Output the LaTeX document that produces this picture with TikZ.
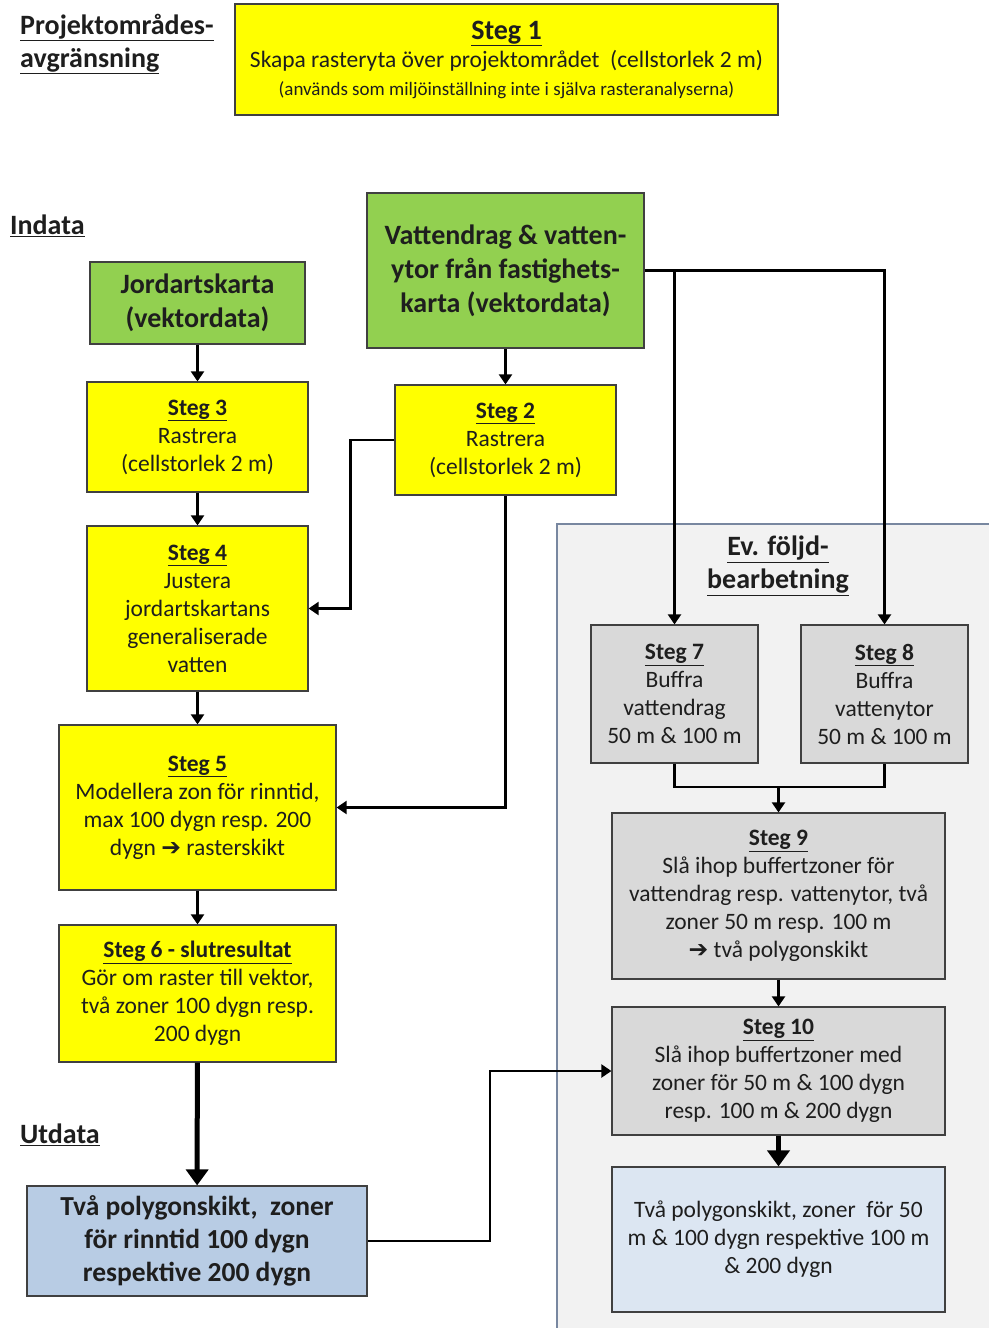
\documentclass[tikz,border=0pt]{standalone}
\usepackage{fontspec}
\setmainfont{Carlito}
\newfontfamily\pilfont{DejaVu Sans}
\usetikzlibrary{arrows.meta}

\definecolor{stegyellow}{RGB}{255,255,0}
\definecolor{datagreen}{RGB}{146,208,80}
\definecolor{bufgray}{RGB}{217,217,217}
\definecolor{panelgray}{RGB}{242,242,242}
\definecolor{panelline}{RGB}{120,135,160}
\definecolor{utblue}{RGB}{184,204,228}
\definecolor{slutblue}{RGB}{220,230,242}
\definecolor{ink}{RGB}{30,30,30}

\newcommand{\steg}[1]{\textbf{\underline{Steg #1}}}
\newcommand{\pil}{{\pilfont\bfseries ➔}}

\begin{document}
\begin{tikzpicture}[
  x=1pt, y=-1pt,
  every node/.style={text=ink},
  box/.style={draw=black!75, line width=1.2pt, align=center, inner sep=0pt,
    font=\fontsize{23.5}{28}\selectfont},
  stegbox/.style={box, fill=stegyellow},
  databox/.style={box, fill=datagreen, font=\bfseries\fontsize{28}{34}\selectfont},
  bufbox/.style={box, fill=bufgray},
  rubrik/.style={font=\bfseries\fontsize{28}{33}\selectfont, align=left, inner sep=0pt},
  flow/.style={-{Triangle[length=10pt,width=13pt]}, line width=2.2pt},
  bigflow/.style={-{Triangle[length=16pt,width=22pt]}, line width=5pt}
]
\useasboundingbox (0,0) rectangle (989,1328);

% panel for the optional post-processing
\fill[panelgray] (557,524) rectangle (989,1328);
\draw[panelline, line width=1.2pt] (557,1328) -- (557,524) -- (989,524);

% headings
\node[rubrik, anchor=west] (projekt) at (20,44)
  {\underline{Projektområdes-}\\\underline{avgränsning}};
\node[rubrik, anchor=west] (indata) at (10,226) {\underline{Indata}};
\node[rubrik, anchor=west] (utdata) at (20,1135) {\underline{Utdata}};
\node[rubrik, align=center] (foljd) at (778,566) {\underline{Ev. följd-}\\\underline{bearbetning}};

% steg 1
\node[stegbox, minimum width=543pt, minimum height=111pt] (steg1) at (506.5,59.5)
  {{\fontsize{28}{31}\selectfont\steg{1}}\\
   Skapa rasteryta över projektområdet \ (cellstorlek 2 m)\\
   {\fontsize{19}{24}\selectfont (används som miljöinställning inte i själva rasteranalyserna)}};

% input data
\node[databox, minimum width=215pt, minimum height=82pt] (jord) at (197.5,303)
  {Jordartskarta\\(vektordata)};
\node[databox, minimum width=277pt, minimum height=155pt] (vatten) at (505.5,270.5)
  {Vattendrag \& vatten-\\ytor från fastighets-\\karta (vektordata)};

% main chain
\node[stegbox, minimum width=221pt, minimum height=110pt] (steg3) at (197.5,437)
  {\steg{3}\\Rastrera\\(cellstorlek 2 m)};
\node[stegbox, minimum width=221pt, minimum height=110pt] (steg2) at (505.5,440)
  {\steg{2}\\Rastrera\\(cellstorlek 2 m)};
\node[stegbox, minimum width=221pt, minimum height=165pt] (steg4) at (197.5,608.5)
  {\steg{4}\\Justera\\jordartskartans\\generaliserade\\vatten};
\node[stegbox, minimum width=277pt, minimum height=165pt] (steg5) at (197.5,807.5)
  {\steg{5}\\Modellera zon för rinntid,\\max 100 dygn resp. 200\\dygn \pil{} rasterskikt};
\node[stegbox, minimum width=277pt, minimum height=137pt] (steg6) at (197.5,993.5)
  {\textbf{\underline{Steg 6 - slutresultat}}\\Gör om raster till vektor,\\två zoner 100 dygn resp.\\200 dygn};
\node[box, fill=utblue, minimum width=340pt, minimum height=110pt,
  font=\bfseries\fontsize{27.5}{33}\selectfont] (resultat) at (197,1241)
  {Två polygonskikt, \ zoner\\för rinntid 100 dygn\\respektive 200 dygn};

% buffer chain
\node[bufbox, minimum width=167pt, minimum height=138pt] (steg7) at (674.5,694)
  {\steg{7}\\Buffra\\vattendrag\\50 m \& 100 m};
\node[bufbox, minimum width=167pt, minimum height=138pt] (steg8) at (884.5,694)
  {\steg{8}\\Buffra\\vattenytor\\50 m \& 100 m};
\node[bufbox, minimum width=333pt, minimum height=166pt] (steg9) at (778.5,896)
  {\steg{9}\\Slå ihop buffertzoner för\\vattendrag resp. vattenytor, två\\zoner 50 m resp. 100 m\\\pil{} två polygonskikt};
\node[bufbox, minimum width=333pt, minimum height=128pt] (steg10) at (778.5,1071)
  {\steg{10}\\Slå ihop buffertzoner med\\zoner för 50 m \& 100 dygn\\resp. 100 m \& 200 dygn};
\node[box, fill=slutblue, minimum width=333pt, minimum height=145pt] (buffresultat) at (778.5,1239.5)
  {Två polygonskikt, zoner \ för 50\\m \& 100 dygn respektive 100 m\\\& 200 dygn};

\coordinate (merge) at (778.5,787);

% connectors
\draw[flow] (jord) -- (steg3);
\draw[flow] (vatten) -- (steg2);
\draw[flow] (steg3) -- (steg4);
\draw[flow] (steg4) -- (steg5);
\draw[flow] (steg5) -- (steg6);
\draw[bigflow] (steg6) -- (resultat);
\draw[flow] (steg2.west) -- ++(-44,0) |- (steg4.east);
\draw[flow] (steg2.south) |- (steg5.east);
\draw[flow] (vatten.east) -| (steg8.north);
\draw[flow] (vatten.east -| steg7.north) -- (steg7.north);
\draw[line width=2.2pt] (steg7.south) |- (merge) -| (steg8.south);
\draw[flow] (merge) -- (steg9);
\draw[flow] (steg9) -- (steg10);
\draw[bigflow] (steg10) -- (buffresultat);
\draw[flow] (resultat.east) -- ++(122,0) |- (steg10.west);
\end{tikzpicture}
\end{document}
